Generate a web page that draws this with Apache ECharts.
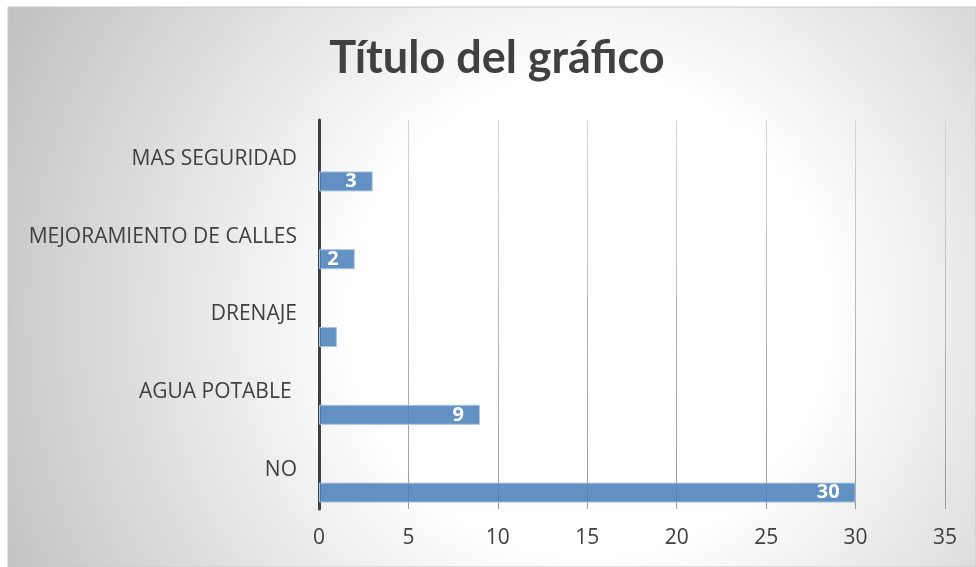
<!DOCTYPE html>
<html>
<head>
<meta charset="utf-8">
<script src="https://cdn.jsdelivr.net/npm/echarts@6/dist/echarts.min.js"></script>
<style>
  html, body { margin: 0; padding: 0; background: #ffffff; }
  #main { width: 976px; height: 567px; }
</style>
</head>
<body>
<div id="main"></div>
<script>
var categories = ['NO', 'AGUA POTABLE ', 'DRENAJE', 'MEJORAMIENTO DE CALLES', 'MAS SEGURIDAD'];
var values = [30, 9, 1, 2, 3];
var emptySeries = [null, null, null, null, null];
var xTicks = { min: 0, max: 35, interval: 5 };

var myChart = echarts.init(document.getElementById('main'));

var option = {
  animation: false,
  graphic: [
    {
      type: 'rect',
      z: -10,
      shape: { x: 8, y: 7, width: 968, height: 560 },
      style: {
        fill: {
          type: 'radial', x: 0.6, y: 0.55, r: 1.2,
          colorStops: [
            { offset: 0, color: '#ffffff' },
            { offset: 0.35, color: '#ffffff' },
            { offset: 1, color: '#bdbdbd' }
          ]
        },
        stroke: '#c8c8c8',
        lineWidth: 1
      }
    }
  ],
  title: {
    text: 'Título del gráfico',
    left: 492,
    textAlign: 'center',
    top: 31,
    textStyle: { fontFamily: 'Lato', fontWeight: 'bold', fontSize: 45, color: '#404040' }
  },
  grid: { left: 319, right: 31, top: 120, bottom: 58 },
  xAxis: {
    type: 'value',
    min: xTicks.min,
    max: xTicks.max,
    interval: xTicks.interval,
    axisLine: { show: false },
    axisTick: { show: false },
    axisLabel: { fontFamily: 'Open Sans', fontSize: 21, color: '#404040', margin: 19 },
    splitLine: {
      lineStyle: {
        width: 1,
        color: {
          type: 'linear', x: 0, y: 120, x2: 0, y2: 510, global: true,
          colorStops: [
            { offset: 0, color: '#d6d6d6' },
            { offset: 1, color: '#999999' }
          ]
        }
      }
    }
  },
  yAxis: {
    type: 'category',
    data: categories,
    axisLine: { lineStyle: { color: '#404040', width: 3 } },
    axisTick: { show: false },
    axisLabel: { fontFamily: 'Open Sans', fontSize: 21, color: '#404040', margin: 22 }
  },
  series: [
    {
      type: 'bar',
      data: emptySeries,
      barWidth: 20,
      barGap: '125%'
    },
    {
      type: 'bar',
      data: values.map(function (v) {
        return { value: v, label: { show: v > 1 } };
      }),
      barWidth: 20,
      barGap: '125%',
      itemStyle: { color: 'rgba(75,127,185,0.86)', borderColor: '#a9c5df', borderWidth: 1 },
      label: {
        show: true,
        position: 'insideRight',
        distance: 16,
        color: '#ffffff',
        fontFamily: 'Open Sans',
        fontWeight: 'bold',
        fontSize: 20
      }
    }
  ]
};

myChart.setOption(option);
</script>
</body>
</html>
